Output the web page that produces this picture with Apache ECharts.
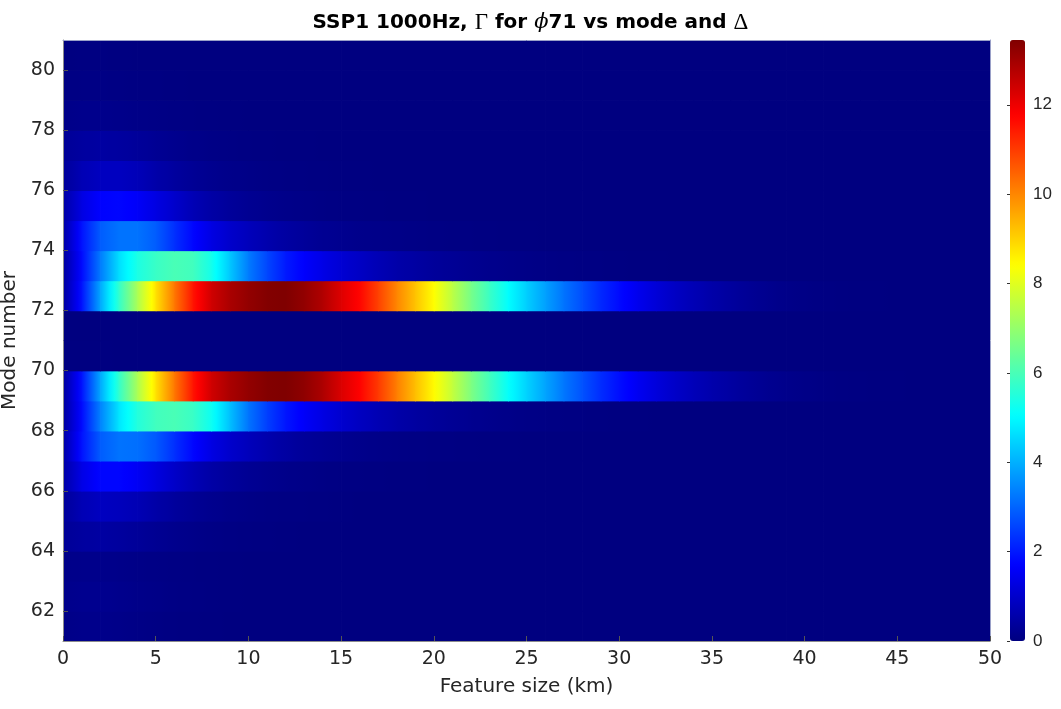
<!DOCTYPE html>
<html>
<head>
<meta charset="utf-8">
<script src="https://cdn.jsdelivr.net/npm/echarts@6/dist/echarts.min.js"></script>
<style>html,body{margin:0;padding:0;background:#fff}#chart{width:1061px;height:709px}</style>
</head>
<body>
<div id="chart"></div>
<script>
// ---- data ----
const featureSize = [0,1,2,3,4,5,6,7,8,9,10,11,12,13,14,15,16,17,18,19,20,21,22,23,24,25,26,27,28,29,30,31,32,33,34,35,36,37,38,39,40,41,42,43,44,45,46,47,48,49,50];
const modeNumbers = [61,62,63,64,65,66,67,68,69,70,71,72,73,74,75,76,77,78,79,80];

const g61 = [0.10,0.15,0.15,0.12,0.09,0.06,0.04,0.03,0.02,0.01, 0,0,0,0,0,0,0,0,0,0, 0,0,0,0,0,0,0,0,0,0, 0,0,0,0,0,0,0,0,0,0, 0,0,0,0,0,0,0,0,0,0, 0];
const g62 = [0.15,0.20,0.20,0.17,0.13,0.10,0.07,0.05,0.03,0.02, 0.01,0,0,0,0,0,0,0,0,0, 0,0,0,0,0,0,0,0,0,0, 0,0,0,0,0,0,0,0,0,0, 0,0,0,0,0,0,0,0,0,0, 0];
const g63 = [0.12,0.15,0.15,0.13,0.10,0.08,0.06,0.04,0.03,0.02, 0.01,0,0,0,0,0,0,0,0,0, 0,0,0,0,0,0,0,0,0,0, 0,0,0,0,0,0,0,0,0,0, 0,0,0,0,0,0,0,0,0,0, 0];
const g64 = [0.30,0.42,0.45,0.40,0.33,0.25,0.18,0.12,0.08,0.06, 0.04,0.03,0.02,0.01,0,0,0,0,0,0, 0,0,0,0,0,0,0,0,0,0, 0,0,0,0,0,0,0,0,0,0, 0,0,0,0,0,0,0,0,0,0, 0];
const g65 = [0.35,0.70,0.85,0.80,0.70,0.52,0.38,0.27,0.19,0.13, 0.09,0.06,0.05,0.04,0.03,0.02,0.01,0,0,0, 0,0,0,0,0,0,0,0,0,0, 0,0,0,0,0,0,0,0,0,0, 0,0,0,0,0,0,0,0,0,0, 0];
const g66 = [0.50,1.35,1.75,1.75,1.55,1.25,0.95,0.70,0.50,0.36, 0.26,0.19,0.14,0.10,0.07,0.05,0.04,0.03,0.02,0.02, 0.01,0,0,0,0,0,0,0,0,0, 0,0,0,0,0,0,0,0,0,0, 0,0,0,0,0,0,0,0,0,0, 0];
const g67 = [0.50,1.90,2.90,3.20,3.15,2.85,2.30,1.75,1.30,1.00, 0.78,0.60,0.45,0.34,0.26,0.20,0.15,0.11,0.08,0.06, 0.05,0.04,0.03,0.02,0.02,0.01,0,0,0,0, 0,0,0,0,0,0,0,0,0,0, 0,0,0,0,0,0,0,0,0,0, 0];
const g68 = [0.40,1.80,3.40,4.70,5.50,5.90,6.00,5.80,5.20,4.20, 3.20,2.50,1.95,1.60,1.30,1.05,0.85,0.68,0.54,0.43, 0.34,0.27,0.21,0.16,0.12,0.09,0.07,0.05,0.04,0.03, 0.02,0.02,0.01,0.01,0,0,0,0,0,0, 0,0,0,0,0,0,0,0,0,0, 0];
const g69 = [0.40,1.90,3.90,5.70,7.30,8.80,10.20,11.50,12.40,12.90, 13.20,13.40,13.45,13.25,12.85,12.25,11.75,11.00,10.10,9.25, 8.45,7.60,6.70,5.90,5.10,4.45,3.85,3.25,2.75,2.25, 1.85,1.50,1.20,0.95,0.75,0.58,0.44,0.32,0.22,0.15, 0.10,0.07,0.045,0.03,0.02,0.015,0.01,0.01,0.005,0.005, 0];
const g70 = [0.02,0.02,0.02,0.01,0.01,0,0,0,0,0, 0,0,0,0,0,0,0,0,0,0, 0,0,0,0,0,0,0,0,0,0, 0,0,0,0,0,0,0,0,0,0, 0,0,0,0,0,0,0,0,0,0, 0];
const g71 = [0.01,0.01,0.01,0,0,0,0,0,0,0, 0,0,0,0,0,0,0,0,0,0, 0,0,0,0,0,0,0,0,0,0, 0,0,0,0,0,0,0,0,0,0, 0,0,0,0,0,0,0,0,0,0, 0];
const g72 = [0.40,1.90,3.90,5.70,7.30,8.80,10.20,11.50,12.40,12.90, 13.20,13.40,13.45,13.20,12.80,12.20,11.70,10.90,10.00,9.20, 8.40,7.50,6.60,5.80,5.05,4.40,3.80,3.20,2.70,2.20, 1.80,1.45,1.15,0.90,0.70,0.54,0.40,0.28,0.19,0.12, 0.08,0.05,0.03,0.02,0.015,0.01,0.01,0.005,0.005,0, 0];
const g73 = [0.40,1.80,3.30,4.60,5.40,5.80,6.00,5.90,5.30,4.30, 3.30,2.60,2.00,1.65,1.35,1.10,0.90,0.70,0.55,0.45, 0.35,0.28,0.22,0.17,0.13,0.10,0.08,0.06,0.05,0.04, 0.03,0.02,0.02,0.01,0.01,0,0,0,0,0, 0,0,0,0,0,0,0,0,0,0, 0];
const g74 = [0.50,1.90,2.90,3.20,3.20,2.90,2.30,1.75,1.30,1.00, 0.78,0.60,0.45,0.35,0.25,0.20,0.15,0.12,0.10,0.08, 0.06,0.05,0.04,0.03,0.02,0.02,0.01,0,0,0, 0,0,0,0,0,0,0,0,0,0, 0,0,0,0,0,0,0,0,0,0, 0];
const g75 = [0.50,1.30,1.70,1.75,1.60,1.30,1.00,0.70,0.50,0.35, 0.25,0.18,0.13,0.10,0.07,0.05,0.04,0.03,0.02,0.02, 0.01,0,0,0,0,0,0,0,0,0, 0,0,0,0,0,0,0,0,0,0, 0,0,0,0,0,0,0,0,0,0, 0];
const g76 = [0.35,0.70,0.85,0.85,0.75,0.55,0.40,0.28,0.20,0.14, 0.10,0.07,0.05,0.04,0.03,0.02,0.02,0.01,0,0, 0,0,0,0,0,0,0,0,0,0, 0,0,0,0,0,0,0,0,0,0, 0,0,0,0,0,0,0,0,0,0, 0];
const g77 = [0.30,0.42,0.45,0.42,0.35,0.26,0.19,0.13,0.09,0.06, 0.04,0.03,0.02,0.02,0.01,0,0,0,0,0, 0,0,0,0,0,0,0,0,0,0, 0,0,0,0,0,0,0,0,0,0, 0,0,0,0,0,0,0,0,0,0, 0];
const g78 = [0.12,0.16,0.16,0.14,0.11,0.08,0.06,0.04,0.03,0.02, 0.01,0,0,0,0,0,0,0,0,0, 0,0,0,0,0,0,0,0,0,0, 0,0,0,0,0,0,0,0,0,0, 0,0,0,0,0,0,0,0,0,0, 0];
const g79 = [0.05,0.07,0.07,0.06,0.04,0.03,0.02,0.01,0,0, 0,0,0,0,0,0,0,0,0,0, 0,0,0,0,0,0,0,0,0,0, 0,0,0,0,0,0,0,0,0,0, 0,0,0,0,0,0,0,0,0,0, 0];
const g80 = [0.02,0.03,0.03,0.02,0.01,0,0,0,0,0, 0,0,0,0,0,0,0,0,0,0, 0,0,0,0,0,0,0,0,0,0, 0,0,0,0,0,0,0,0,0,0, 0,0,0,0,0,0,0,0,0,0, 0];

const gammaRows = [g61,g62,g63,g64,g65,g66,g67,g68,g69,g70,g71,g72,g73,g74,g75,g76,g77,g78,g79,g80];

const xTicks = [0,5,10,15,20,25,30,35,40,45,50];
const yTicks = [62,64,66,68,70,72,74,76,78,80];
const cbTicks = [0,2,4,6,8,10,12];
const gammaMax = 13.45;

// ---- build the cell table ----
gammaRows.forEach((r, j) => { if (r.length !== featureSize.length) throw new Error('row ' + modeNumbers[j] + ' has ' + r.length); });
const cells = [];
gammaRows.forEach((vals, j) => {
  const m = modeNumbers[j];
  for (let i = 0; i < featureSize.length - 1; i++) {
    cells.push([featureSize[i], featureSize[i + 1], m, m + 1, vals[i], vals[i + 1]]);
  }
});

// MATLAB jet colormap
function jet(t) {
  t = Math.max(0, Math.min(1, t));
  const c = v => Math.round(255 * Math.max(0, Math.min(1, v)));
  const r = c(Math.min(4 * t - 1.5, -4 * t + 4.5));
  const g = c(Math.min(4 * t - 0.5, -4 * t + 3.5));
  const b = c(Math.min(4 * t + 0.5, -4 * t + 2.5));
  return 'rgb(' + r + ',' + g + ',' + b + ')';
}
const jetStops = ['#000080','#0000FF','#0080FF','#00FFFF','#80FF80','#FFFF00','#FF8000','#FF0000','#800000'];

const txt = '#262626';
const fontFam = 'DejaVu Sans, Verdana, sans-serif';

const chart = echarts.init(document.getElementById('chart'), null, { renderer: 'canvas' });
const option = {
  backgroundColor: '#ffffff',
  animation: false,
  title: {
    left: 'center',
    top: 6,
    text: '{b|SSP1 1000Hz, }{g|Γ}{b| for }{p|ϕ}{b|71 vs mode and }{g|Δ}',
    textStyle: {
      rich: {
        b: { fontFamily: fontFam, fontWeight: 'bold', fontSize: 20, color: '#000' },
        g: { fontFamily: 'Liberation Serif, DejaVu Serif, serif', fontWeight: 'normal', fontSize: 23, color: '#000' },
        p: { fontFamily: 'DejaVu Serif, Liberation Serif, serif', fontStyle: 'italic', fontWeight: 'normal', fontSize: 21, color: '#000' }
      }
    }
  },
  grid: [
    { left: 63, right: 71, top: 40, bottom: 68, containLabel: false, outerBoundsMode: 'none' },
    { left: 1010, width: 15, top: 40, bottom: 68, containLabel: false, outerBoundsMode: 'none' }
  ],
  xAxis: [
    {
      type: 'value', gridIndex: 0, min: 0, max: 50, z: 10,
      name: 'Feature size (km)', nameLocation: 'middle', nameGap: 36,
      nameTextStyle: { fontFamily: fontFam, fontSize: 20, color: txt },
      axisLine: { show: true, onZero: false, lineStyle: { color: '#8c8c8c', width: 1 } },
      axisTick: { show: true, inside: true, length: 5, customValues: xTicks, lineStyle: { color: '#555' } },
      axisLabel: { customValues: xTicks, fontFamily: fontFam, fontSize: 19, color: txt, margin: 9 },
      splitLine: { show: false }
    },
    { type: 'value', gridIndex: 0, position: 'top', min: 0, max: 50, z: 10,
      axisLine: { show: true, onZero: false, lineStyle: { color: '#9aa0c8', width: 1 } },
      axisTick: { show: false }, axisLabel: { show: false }, splitLine: { show: false } },
    { type: 'value', gridIndex: 1, show: false, min: 0, max: 1 }
  ],
  yAxis: [
    {
      type: 'value', gridIndex: 0, min: 61, max: 81, z: 10,
      name: 'Mode number', nameLocation: 'middle', nameGap: 39, nameRotate: 90,
      nameTextStyle: { fontFamily: fontFam, fontSize: 20, color: txt },
      axisLine: { show: true, onZero: false, lineStyle: { color: '#8c8c8c', width: 1 } },
      axisTick: { show: true, inside: true, length: 5, customValues: yTicks, lineStyle: { color: '#555' } },
      axisLabel: { customValues: yTicks, fontFamily: fontFam, fontSize: 19, color: txt, margin: 8 },
      splitLine: { show: false }
    },
    { type: 'value', gridIndex: 0, position: 'right', min: 61, max: 81, z: 10,
      axisLine: { show: true, onZero: false, lineStyle: { color: '#9aa0c8', width: 1 } },
      axisTick: { show: false }, axisLabel: { show: false }, splitLine: { show: false } },
    {
      type: 'value', gridIndex: 1, position: 'right', min: 0, max: gammaMax, z: 10,
      axisLine: { show: false },
      axisTick: { show: true, inside: true, length: 3, customValues: cbTicks, lineStyle: { color: '#333' } },
      axisLabel: { customValues: cbTicks, fontFamily: 'Liberation Sans, Arial, sans-serif', fontSize: 17, color: txt, margin: 8 },
      splitLine: { show: false }
    }
  ],
  visualMap: {
    type: 'continuous', min: 0, max: gammaMax, dimension: 4, seriesIndex: 0,
    left: 1010, top: 40, itemWidth: 15, itemHeight: 601, padding: 0,
    calculable: false, hoverLink: false, text: null, showLabel: false,
    inRange: { color: jetStops }
  },
  series: [{
    type: 'custom',
    xAxisIndex: 0, yAxisIndex: 0,
    clip: true, silent: true,
    encode: { x: [0, 1], y: [2, 3] },
    data: cells,
    renderItem: function (params, api) {
      const x0 = api.value(0), x1 = api.value(1), y0 = api.value(2), y1 = api.value(3);
      const v0 = api.value(4), v1 = api.value(5);
      const a = api.coord([x0, y1]);
      const b = api.coord([x1, y0]);
      const stops = [];
      for (let k = 0; k <= 4; k++) {
        const t = k / 4;
        stops.push({ offset: t, color: jet((v0 + (v1 - v0) * t) / gammaMax) });
      }
      return {
        type: 'rect',
        shape: { x: a[0], y: a[1], width: b[0] - a[0] + 0.8, height: b[1] - a[1] + 0.8 },
        style: { fill: new echarts.graphic.LinearGradient(0, 0, 1, 0, stops), stroke: null }
      };
    }
  }]
};
chart.setOption(option);
</script>
</body>
</html>
